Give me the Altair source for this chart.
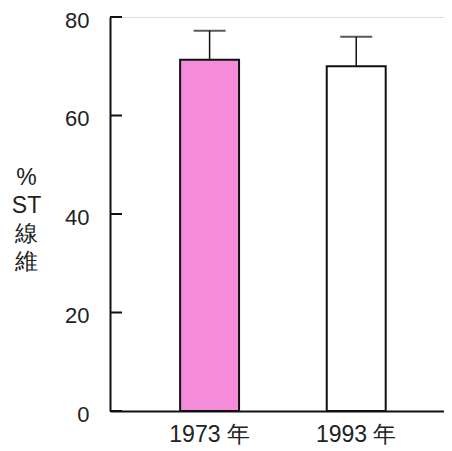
import altair as alt
import pandas as pd

categories = ["1973 年", "1993 年"]
means = [71.3, 70.0]
err_tops = [77.2, 76.0]
fills = ["#f48cda", "#ffffff"]
y_ticks = [0, 20, 40, 60, 80]

df = pd.DataFrame({"cat": categories, "mean": means, "top": err_tops, "fill": fills})
ticks_df = pd.DataFrame({"v": y_ticks})

FONT = "Liberation Sans"

xscale = alt.Scale(domain=categories, paddingInner=0.598, paddingOuter=0.438, align=0.546)
yscale = alt.Scale(domain=[0, 80], nice=False)

xenc = alt.X("cat:N", scale=xscale, sort=categories,
             axis=alt.Axis(title=None, labelAngle=0, ticks=False, tickSize=0,
                           labelPadding=12, labelFontSize=23, labelFont=FONT,
                           labelColor="#222222", domainColor="#111111", domainWidth=2))
yenc = alt.Y("mean:Q", scale=yscale,
             axis=alt.Axis(values=y_ticks, ticks=False, tickSize=0, labelPadding=21,
                           labelOffset=3,
                           labelFontSize=22, labelFont=FONT, labelColor="#222222",
                           domainColor="#111111", domainWidth=2, grid=False,
                           title=["%", "ST", "線", "維"], titleAngle=0, titleAlign="center",
                           titleBaseline="top", titleX=-84, titleY=149,
                           titleLineHeight=28, titleFontSize=23, titleFont=FONT,
                           titleFontWeight="normal", titleColor="#222222"))

bars = alt.Chart(df).mark_bar(stroke="#111111", strokeWidth=2).encode(
    x=xenc, y=yenc, fill=alt.Fill("fill:N", scale=None))

err = alt.Chart(df).mark_rule(color="#111111", strokeWidth=1.5).encode(
    x=alt.X("cat:N", scale=xscale, sort=categories),
    y=alt.Y("mean:Q", scale=yscale), y2="top:Q")

caps = alt.Chart(df).mark_tick(color="#111111", thickness=2, size=32, orient="horizontal").encode(
    x=alt.X("cat:N", scale=xscale, sort=categories),
    y=alt.Y("top:Q", scale=yscale))

yticks = alt.Chart(ticks_df).mark_rule(color="#111111", strokeWidth=2).encode(
    y=alt.Y("v:Q", scale=yscale), x=alt.value(0), x2=alt.value(12))

chart = alt.layer(bars, err, caps, yticks).properties(
    width=334, height=394,
    autosize=alt.AutoSizeParams(type="none"),
    padding={"left": 102, "top": 9, "right": 0, "bottom": 36},
).configure_view(stroke=None).configure(background="white")

chart.save("out.html", embed_options={"renderer": "svg", "actions": False})
